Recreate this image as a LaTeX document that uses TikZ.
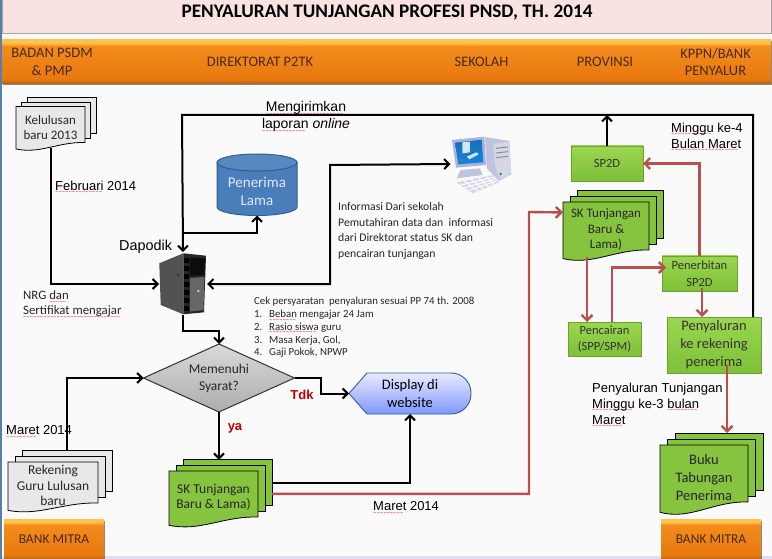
\documentclass[tikz,border=0pt]{standalone}
\usepackage{fontspec}
\setmainfont{Carlito}
\newfontfamily\arial{Liberation Sans}
\newfontfamily\gelombang{DejaVu Sans}
\usetikzlibrary{arrows.meta,shapes.geometric,shadows}

\definecolor{judul}{HTML}{F9E3E1}
\definecolor{teksband}{HTML}{4A2A10}
\definecolor{hijau}{HTML}{86C43F}
\definecolor{hijauatas}{HTML}{9BD64F}
\definecolor{hijaubawah}{HTML}{7EC038}
\definecolor{abu}{HTML}{E8E8E8}
\definecolor{merah}{HTML}{B9504C}
\definecolor{biru}{HTML}{4A7EBB}
\definecolor{tepi}{HTML}{2E5F94}
\definecolor{bandbawah}{HTML}{B8650F}
\definecolor{bandtengah}{HTML}{E8780E}
\definecolor{bandterang}{HTML}{F38C1C}
\definecolor{bandatas}{HTML}{FFC24D}
\definecolor{layar}{HTML}{1A84D8}
\definecolor{bingkai}{HTML}{A9B3E0}
\definecolor{menara}{HTML}{BFC3DE}
\definecolor{muka}{HTML}{D5D7E8}

\pgfdeclareverticalshading{fadeband}{100bp}{
    color(0bp)=(bandbawah); color(26bp)=(bandbawah);
    color(30bp)=(bandtengah); color(68bp)=(bandterang);
    color(72bp)=(bandatas); color(100bp)=(bandatas)}

\newcommand\salah[1]{\leavevmode\setbox0\hbox{#1}\rlap{\hbox to\wd0{\leaders\hbox{\lower3.4pt\hbox{\gelombang\bfseries\fontsize{4}{4}\selectfont\textcolor{red}{\char"7E}}}\hfil}}\box0 }

\tikzset{
    band/.style =   {rectangle,
                    shading=fadeband,
                    text=teksband,
                    inner sep=0pt,
                    outer sep=0pt,
                    align=center,
                    minimum height=44pt,
                    font=\fontsize{14.5}{17.5}\selectfont,
                    drop shadow={shadow xshift=1pt,shadow yshift=-1.5pt,opacity=.45,fill=black}},
    lembar/.style = {draw=black,
                    line width=.8pt,
                    inner sep=0pt,
                    outer sep=0pt},
    isi/.style =    {inner sep=0pt,
                    outer sep=0pt,
                    align=center,
                    text=black!85},
    hijaubox/.style = {rectangle,
                    top color=hijauatas,
                    bottom color=hijaubawah,
                    draw=hijaubawah!85!black,
                    text=black!80,
                    inner sep=0pt,
                    outer sep=0pt,
                    align=center,
                    drop shadow={shadow xshift=.8pt,shadow yshift=-1.2pt,opacity=.4,fill=black}},
    tempat/.style = {rectangle,
                    inner sep=0pt,
                    outer sep=0pt},
    catatan/.style = {anchor=west,
                    align=left,
                    inner sep=0pt,
                    text=black,
                    font=\arial\fontsize{13}{16}\selectfont},
    kecil/.style =  {anchor=west,
                    align=left,
                    inner sep=0pt,
                    text=black!85,
                    font=\fontsize{11.7}{15.4}\selectfont},
    tanda/.style =  {inner sep=0pt,
                    text=red!75!black,
                    font=\arial\bfseries\fontsize{13}{15}\selectfont},
    jalur/.style =  {line width=2pt,
                    black,
                    -{Straight Barb[length=5pt,width=10pt]}},
    jalurmerah/.style = {line width=2.4pt,
                    merah,
                    -{Straight Barb[length=5.5pt,width=11pt]}},
    siku/.style =   {to path={|- (\tikztotarget)}},
    sikub/.style =  {to path={-| (\tikztotarget)}}}

\newcommand\tumpukan[9]{
    \pgfmathsetmacro\lebar{#5}
    \pgfmathsetmacro\dalam{0.18*#6}
    \pgfmathsetmacro\kanan{#3+#5}
    \pgfmathsetmacro\dasar{#4+#6}
    \node[lembar,fill=#2,minimum width=#5pt,minimum height=#6pt] (#1-back) at ({#3+#5/2+2*#7},{#4+#6/2-1.6*#7}) {};
    \node[lembar,fill=#2,minimum width=#5pt,minimum height=#6pt] (#1-mid)  at ({#3+#5/2+#7},{#4+#6/2-.8*#7}) {};
    \draw[lembar,fill=#2] (#3,#4) -- (\kanan,#4) -- (\kanan,\dasar)
        .. controls ({#3+.6*\lebar},{\dasar-.1*\dalam}) and ({#3+.35*\lebar},{\dasar+1.8*\dalam}) .. (#3,{\dasar+\dalam}) -- cycle;
    \node[isi,minimum width=#5pt,minimum height={#6pt+.8pt*\dalam},font=#8] (#1) at ({#3+#5/2},{#4+(#6+.8*\dalam)/2}) {#9};
}

\begin{document}
\begin{tikzpicture}[x=1pt,y=-1pt]
    \useasboundingbox (0,0) rectangle (772,559);
    \fill[white!98!black] (0,0) rectangle (772,559);
    \fill[blue!8!white!95!black] (0,556) rectangle (772,559);
    \fill[tepi!80!white] (0,0) rectangle (2,559);

    \node[rectangle,fill=judul,draw=black!35,inner sep=0pt,outer sep=0pt,
          minimum width=769pt,minimum height=34pt,
          drop shadow={shadow xshift=.5pt,shadow yshift=-1.5pt,opacity=.45,fill=black}]
          (judul) at (386.5,16) {};
    \node[inner sep=0pt] (judulteks) at (387,13) [font=\bfseries\fontsize{19.2}{22}\selectfont] {PENYALURAN TUNJANGAN PROFESI PNSD, TH. 2014};

    \node[band,minimum width=100pt] (badan)      at (52,62)                            {BADAN PSDM\\\& PMP};
    \node[band,minimum width=311pt] (direktorat) [right of=badan,node distance=205.5pt]      {\hspace{5pt}DIREKTORAT P2TK};
    \node[band,minimum width=137pt] (sekolah)    [right of=direktorat,node distance=224pt]   {SEKOLAH};
    \node[band,minimum width=110pt] (provinsi)   [right of=sekolah,node distance=123.5pt]    {PROVINSI};
    \node[band,minimum width=111pt] (kppn)       [right of=provinsi,node distance=110.5pt]   {KPPN/BANK\\PENYALUR};
    \node[band,minimum width=100pt,minimum height=40pt,font=\fontsize{13.5}{16}\selectfont] (mitrakiri)  at (54,539.5)  {BANK MITRA};
    \node[band,minimum width=100pt,minimum height=40pt,font=\fontsize{13.5}{16}\selectfont] (mitrakanan) at (711,539.5) {BANK MITRA};

    \tumpukan{kelulusan}{abu}{16}{106.5}{69}{36}{5.5}{\fontsize{13}{15}\selectfont}{Kelulusan\\baru 2013}
    \tumpukan{rekening}{abu}{8}{462}{90}{41}{7}{\fontsize{13.5}{15.5}\selectfont}{Rekening\\Guru Lulusan\\baru}
    \tumpukan{skbaru}{hijau}{169}{471}{89}{46}{7}{\fontsize{13.5}{15}\selectfont}{SK Tunjangan\\Baru \& Lama)}
    \tumpukan{sk}{hijau}{563}{202}{86}{48}{7}{\fontsize{13}{15.5}\selectfont}{SK Tunjangan\\Baru \&\\Lama)}
    \tumpukan{buku}{hijau}{660}{445}{88}{57}{7.5}{\fontsize{14.5}{18}\selectfont}{Buku\\Tabungan\\Penerima}

    \draw[draw=tepi,line width=1pt,fill=biru] (217,162.5) -- (217,207) arc[start angle=180,end angle=0,x radius=40,y radius=8.5] -- (297,162.5) -- cycle;
    \draw[draw=tepi,line width=1pt,fill=biru!92!white] (257,162.5) circle [x radius=40,y radius=8.5];
    \node[tempat,minimum width=80pt,minimum height=61pt] (penerima) at (257,185) {};
    \node[isi,text=white!90!blue,font=\fontsize{15}{18}\selectfont] (penerimateks) at (257,191) {Penerima\\Lama};

    \node[hijaubox,minimum width=72pt,minimum height=35pt,font=\fontsize{12.5}{15}\selectfont] (sp2d)       at (607,163.5) {SP2D};
    \node[hijaubox,minimum width=75pt,minimum height=35pt,font=\fontsize{12.5}{17}\selectfont] (penerbitan) at (699.5,273.5) {Penerbitan\\SP2D};
    \node[hijaubox,minimum width=73pt,minimum height=34pt,font=\fontsize{12.5}{16}\selectfont] (pencairan)  at (604.5,339) {Pencairan\\(SPP/SPM)};
    \node[hijaubox,minimum width=94pt,minimum height=56pt,font=\fontsize{14.5}{18}\selectfont] (penyaluran) at (714,345) {Penyaluran\\ke rekening\\penerima};

    \node[diamond,draw=black!80,line width=1pt,top color=black!15,bottom color=black!32,
          minimum width=151pt,minimum height=68pt,aspect=2.2,inner sep=0pt,outer sep=0pt,
          align=center,text=black!85,font=\fontsize{13.5}{17}\selectfont]
          (syarat) at (219,378) {Memenuhi\\Syarat?};

    \draw[draw=tepi,line width=.9pt,top color=blue!8!white,bottom color=blue!45!white!90!cyan]
        (349,393.5) -- (367,373) [rounded corners=20pt] -- (471,373) -- (471,414) [sharp corners] -- (367,414) -- cycle;
    \node[tempat,minimum width=122pt,minimum height=41pt,align=center,font=\fontsize{14.5}{18}\selectfont] (tampilan) at (410,393.5) {Display di\\website};

    \node[tempat,minimum width=48pt,minimum height=62pt] (server) at (183,284) {};
    \fill[black!68] (159.3,263.3) -- (183.3,253.3) -- (183.3,314.3) -- (160.7,305) -- cycle;
    \fill[black!85] (183.3,253.3) -- (206,255.7) -- (204,312.3) -- (183.3,314.3) -- cycle;
    \fill[black!95] (189.5,257.5) -- (205,258.5) -- (204.5,275) -- (189.5,276) -- cycle;
    \fill[black!60] (190,278) -- (204.4,277) -- (203.5,310) -- (190,311.5) -- cycle;
    \fill[black!80] (178,275) circle (1.5);
    \foreach \y in {258,266,...,306}
        \fill[black] (184,\y) rectangle (188.5,\y+5);
    \fill[white!85!black] (198.3,291) circle (1.2);

    \node[tempat,minimum width=58pt,minimum height=58pt] (komputer) at (481,164) {};
    \begin{scope}[shift={(430,125)},x=.3333pt,y=-.3333pt]
        \fill[menara] (165,36) -- (238,48) -- (244,148) -- (208,168) -- (170,130) -- cycle;
        \fill[muka] (190,56) -- (238,50) -- (243,146) -- (210,166) -- (195,120) -- cycle;
        \foreach \y in {70,84,98}
            \draw[black!45,line width=1pt] (198,\y) -- (234,\y-4);
        \fill[green!60!black] (212,147) circle (4);
        \fill[menara] (92,135) -- (150,130) -- (158,150) -- (80,160) -- cycle;
        \fill[bingkai] (66,45) -- (163,35) -- (168,120) -- (78,128) -- cycle;
        \shade[top color=layar!85!black,bottom color=layar] (75,53) -- (155,44) -- (160,112) -- (85,118) -- cycle;
        \fill[white!80!layar] (97,52) -- (120,50) -- (120,82) -- (97,85) -- cycle;
        \fill[white!80!layar] (110,95) -- (140,82) -- (146,88) -- (118,103) -- cycle;
        \fill[green!60!black] (86,113) rectangle (96,117);
        \fill[muka] (80,172) -- (190,150) -- (207,172) -- (128,205) -- cycle;
        \foreach \t in {.2,.4,.6,.8}
            \draw[white,line width=1pt] ({80+110*\t},{172-22*\t}) -- ({128+79*\t},{205-33*\t});
        \foreach \t in {.25,.5,.75}
            \draw[white,line width=1pt] ({80+48*\t},{172+33*\t}) -- ({190+17*\t},{150+22*\t});
    \end{scope}

    \coordinate (ataskiri)   at (182,115);
    \coordinate (ataskanan)  at (753,115);
    \coordinate (cabang)     at (182,233);
    \coordinate (infoatas)   at (330,165);
    \coordinate (infobawah)  at (330,284);
    \coordinate (belokserver) at (219,331);
    \coordinate (beloktdk)   at (321,393.5);
    \coordinate (belokmerah) at (529,212);

    \draw[jalur] (kelulusan.south) |- (server.west);
    \draw[jalur] ([xshift=39pt]penyaluran.north) -- (ataskanan) -- (ataskiri) -- ([yshift=1pt]server.north);
    \draw[jalur] (cabang) -| (penerima.south);
    \draw[jalur,{Straight Barb[length=5pt,width=10pt]}-{Straight Barb[length=5pt,width=10pt]}] ([xshift=-1.5pt]komputer.west) -- (infoatas) -- (infobawah) -- (server.east);
    \draw[jalur] (server.south) |- (belokserver) -- (syarat.north);
    \path[jalur] (rekening-back.north) edge [siku] (syarat.west)
                 (syarat.south) edge [] (syarat.south |- skbaru-back.north)
                 (skbaru-back.east) edge [sikub] (tampilan.south)
                 (sp2d.north) edge [] (sp2d.north |- ataskanan);
    \draw[jalur] (syarat.east) -| (beloktdk) -- (tampilan.west);

    \draw[jalurmerah] ([yshift=-11pt]skbaru-back.east) -| (belokmerah) -- ([yshift=17pt]sk.west);
    \draw[jalurmerah] (penerbitan.north) |- (sp2d.east);
    \draw[jalurmerah] ([xshift=-19pt]sk.south) -- ([xshift=-17.5pt]pencairan.north);
    \draw[jalurmerah] ([xshift=7.5pt]pencairan.north) |- ([xshift=4pt,yshift=6pt]penerbitan.west);
    \draw[jalurmerah] ([xshift=2.5pt,yshift=3pt]penerbitan.south) -- ([xshift=-12pt]penyaluran.north);
    \draw[jalurmerah] ([xshift=13pt,yshift=8pt]penyaluran.south) -- ([xshift=8pt]buku-back.north);

    \node[catatan,anchor=center,align=center,font=\arial\fontsize{14}{17}\selectfont] (kirim) at (306,117) {\salah{Mengirimkan}\\\salah{laporan} \textit{online}};
    \node[catatan] (februari) at (55,187) {\salah{Februari} 2014};
    \node[catatan,font=\arial\fontsize{14.4}{17}\selectfont] (dapodik) at (119,247) {Dapodik};
    \node[catatan] (maretkiri) at (6,432) {\salah{Maret} 2014};
    \node[catatan] (maretbawah) at (373,508) {\salah{Maret} 2014};
    \node[catatan] (minggu) at (671,137) {\salah{Minggu} ke-4\\\salah{Bulan Maret}};
    \node[catatan] (minggutiga) at (592,405) {Penyaluran Tunjangan\\\salah{Minggu} ke-3 \salah{bulan}\\\salah{Maret}};

    \node[kecil] (informasi) at (338,231) {Informasi Dari sekolah\\Pemutahiran data dan~~informasi\\dari Direktorat status SK dan\\pencairan tunjangan};
    \node[kecil,font=\fontsize{12.8}{15}\selectfont] (nrg) at (23,304.5) {NRG \salah{dan}\\\salah{Sertifikat mengajar}};
    \node[kecil,font=\fontsize{10.8}{12.7}\selectfont] (cek) at (254,302) {Cek persyaratan~~penyaluran sesuai PP 74 th. 2008};
    \node[kecil,font=\fontsize{10.8}{12.7}\selectfont] (daftar) at (254,334) {\hbox to 15pt{1.\hfil}\salah{Beban} mengajar 24 Jam\\\hbox to 15pt{2.\hfil}\salah{Rasio siswa} guru\\\hbox to 15pt{3.\hfil}Masa Kerja, Gol,\\\hbox to 15pt{4.\hfil}Gaji Pokok, NPWP};

    \node[tanda] (tdk) at (302,395) {Tdk};
    \node[tanda] (ya) at (235,428) {ya};
\end{tikzpicture}
\end{document}
